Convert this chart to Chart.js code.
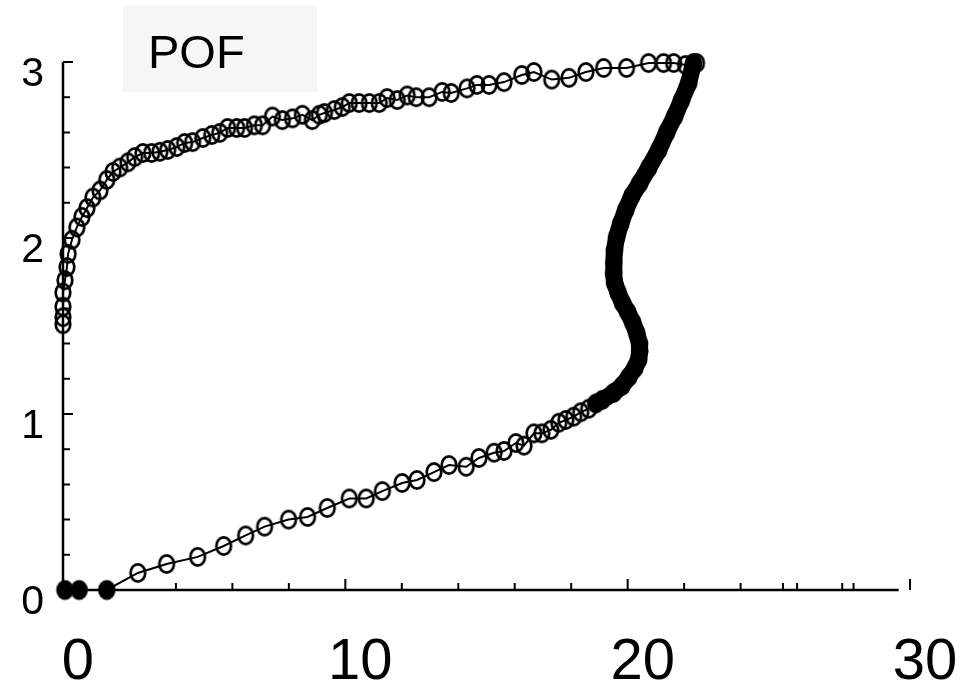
<!DOCTYPE html>
<html>
<head>
<meta charset="utf-8">
<script src="https://cdn.jsdelivr.net/npm/chart.js@4.4.1/dist/chart.umd.min.js"></script>
<style>
  html, body { margin: 0; padding: 0; background: #fff; overflow: hidden; }
  #c { display: block; }
</style>
</head>
<body>
<canvas id="c" width="972" height="689"></canvas>
<script>
// filled points sitting on the x axis
const startX = [0.07, 0.57, 1.55];
const startY = [0, 0, 0];

// lower branch, going right
const lowerX = [2.65, 3.67, 4.77, 5.69, 6.47, 7.14, 7.99, 8.66, 9.36, 10.14, 10.74, 11.31, 12.01, 12.54,
  13.14, 13.67, 14.28, 14.73, 15.27, 15.62, 16.04, 16.33, 16.68, 16.96, 17.28, 17.56, 17.81, 18.09,
  18.34, 18.62, 18.87];
const lowerY = [0.097, 0.148, 0.188, 0.25, 0.31, 0.36, 0.40, 0.415, 0.466, 0.52, 0.52, 0.562, 0.608, 0.625,
  0.67, 0.71, 0.70, 0.75, 0.78, 0.79, 0.835, 0.82, 0.89, 0.89, 0.91, 0.95, 0.966, 0.985,
  1.01, 1.03, 1.06];

// dense S-shaped band on the right
const bandX = [19.1, 19.5, 19.8, 20.04, 20.25, 20.39, 20.43, 20.42, 20.32, 20.18, 20.0, 19.82, 19.66,
  19.54, 19.5, 19.51, 19.53, 19.61, 19.75, 19.93, 20.15, 20.42, 20.75, 21.1, 21.38, 21.66, 21.9,
  22.16, 22.33];
const bandY = [1.08, 1.12, 1.16, 1.21, 1.26, 1.31, 1.36, 1.40, 1.46, 1.52, 1.58, 1.63, 1.69,
  1.744, 1.80, 1.86, 1.93, 2.006, 2.08, 2.16, 2.24, 2.31, 2.40, 2.50, 2.60, 2.69, 2.78,
  2.88, 2.994];

// upper branch, going back left
const upperX = [22.44, 22.05, 21.63, 21.27, 20.74, 19.96, 19.15, 18.52, 17.92, 17.31, 16.68, 16.25,
  15.62, 15.09, 14.66, 14.31, 13.75, 13.43, 12.97, 12.51, 12.19, 11.84, 11.48, 11.2, 10.85, 10.49,
  10.14, 9.89, 9.61, 9.26, 9.08, 8.83, 8.48, 8.13, 7.77, 7.42, 7.07, 6.78, 6.43, 6.15, 5.83, 5.55,
  5.27, 4.95, 4.59, 4.31, 4.03, 3.71, 3.43, 3.14, 2.83, 2.54, 2.3, 2.01, 1.77, 1.55, 1.31, 1.06,
  0.85, 0.67, 0.49, 0.32, 0.18, 0.14, 0.07, 0, 0, 0, 0];
const upperY = [2.994, 2.983, 2.994, 2.994, 2.994, 2.966, 2.966, 2.943, 2.91, 2.9, 2.943, 2.926,
  2.886, 2.87, 2.87, 2.85, 2.824, 2.83, 2.8, 2.8, 2.81, 2.784, 2.795, 2.767, 2.767, 2.767,
  2.767, 2.744, 2.727, 2.71, 2.7, 2.67, 2.7, 2.68, 2.67, 2.69, 2.64, 2.64, 2.625, 2.625, 2.625, 2.597,
  2.585, 2.568, 2.545, 2.54, 2.517, 2.5, 2.49, 2.483, 2.483, 2.46, 2.43, 2.4, 2.375, 2.33, 2.27, 2.23,
  2.17, 2.12, 2.06, 1.99, 1.91, 1.835, 1.76, 1.69, 1.61, 1.55, 1.51];

const xLabels = [0, 10, 20, 30];
const xMinorTicks = [4, 6, 8, 12, 14, 16, 18, 22, 24, 25.5, 26, 27.6, 28];
const yMinorTicks = [0.2, 0.4, 0.6, 0.8, 1.2, 1.4, 1.6, 1.8, 2.2, 2.4, 2.6, 2.8];
const xAxisEnd = 29.6;

function ellipseMarker(rx, ry, filled) {
  const lw = 2.7;
  const c = document.createElement("canvas");
  c.width = Math.ceil(2 * rx + lw + 2);
  c.height = Math.ceil(2 * ry + lw + 2);
  const g = c.getContext("2d");
  g.beginPath();
  g.ellipse(c.width / 2, c.height / 2, rx, ry, 0, 0, Math.PI * 2);
  if (filled) {
    g.fillStyle = "#000";
    g.fill();
  } else {
    g.lineWidth = lw;
    g.strokeStyle = "#000";
    g.stroke();
  }
  return c;
}
const openMark = ellipseMarker(7.3, 8.6, false);
const fullMark = ellipseMarker(8.8, 10, true);

const toPoints = (xs, ys) => xs.map((x, i) => ({ x, y: ys[i] }));
const allPoints = [
  ...toPoints(startX, startY),
  ...toPoints(lowerX, lowerY),
  ...toPoints(bandX, bandY),
  ...toPoints(upperX, upperY),
];
const bandPoints = [
  { x: lowerX[lowerX.length - 1], y: lowerY[lowerY.length - 1] },
  ...toPoints(bandX, bandY),
];

const axisMarks = {
  id: "axisMarks",
  beforeDatasetsDraw(chart) {
    const { ctx } = chart;
    const x = chart.scales.x;
    const y = chart.scales.y;
    const x0 = x.getPixelForValue(0);
    const y0 = y.getPixelForValue(0);
    ctx.save();
    ctx.strokeStyle = "#000";
    ctx.lineWidth = 2.5;
    ctx.beginPath();
    ctx.moveTo(x0, y0);
    ctx.lineTo(x.getPixelForValue(xAxisEnd), y0);
    ctx.moveTo(x0, y0);
    ctx.lineTo(x0, y.getPixelForValue(3));
    ctx.stroke();

    ctx.lineWidth = 2;
    ctx.beginPath();
    [1, 2, 3].forEach((v) => {
      const p = y.getPixelForValue(v);
      ctx.moveTo(x0, p);
      ctx.lineTo(x0 + 10, p);
    });
    yMinorTicks.forEach((v) => {
      const p = y.getPixelForValue(v);
      ctx.moveTo(x0, p);
      ctx.lineTo(x0 + 7, p);
    });
    [10, 20, 30].forEach((v) => {
      const p = x.getPixelForValue(v);
      ctx.moveTo(p, y0);
      ctx.lineTo(p, y0 - 11);
    });
    xMinorTicks.forEach((v) => {
      const p = x.getPixelForValue(v);
      ctx.moveTo(p, y0);
      ctx.lineTo(p, y0 - 7);
    });
    ctx.stroke();
    ctx.restore();
  },
  afterDraw(chart) {
    const { ctx } = chart;
    ctx.save();
    ctx.fillStyle = "#f6f6f6";
    ctx.fillRect(123, 5, 194, 87);
    ctx.fillStyle = "#000";
    ctx.font = "47px 'Liberation Sans', Arial, sans-serif";
    ctx.textBaseline = "alphabetic";
    ctx.fillText("POF", 148, 68);
    ctx.restore();
  },
};

new Chart(document.getElementById("c"), {
  type: "scatter",
  data: {
    datasets: [
      {
        data: allPoints,
        showLine: true,
        borderColor: "#000",
        borderWidth: 2,
        tension: 0,
        pointStyle: (ctx) => (ctx.dataIndex < startX.length ? fullMark : openMark),
        pointRadius: 8,
        clip: false,
      },
      {
        data: bandPoints,
        showLine: true,
        borderColor: "#000",
        borderWidth: 17,
        borderCapStyle: "round",
        borderJoinStyle: "round",
        pointRadius: 0,
        tension: 0,
        clip: false,
      },
    ],
  },
  options: {
    responsive: false,
    animation: false,
    layout: { padding: { top: 62, right: 62, left: 0, bottom: 0 } },
    plugins: { legend: { display: false }, tooltip: { enabled: false } },
    scales: {
      x: {
        type: "linear",
        min: 0,
        max: 30,
        afterBuildTicks: (s) => { s.ticks = xLabels.map((v) => ({ value: v })); },
        afterFit: (s) => {
          s.height = 99;
          s.paddingLeft = 0;
          s.paddingRight = 0;
        },
        grid: { display: false, drawTicks: false },
        border: { display: false },
        ticks: {
          color: "#000",
          padding: 38,
          labelOffset: 15,
          maxRotation: 0,
          font: { family: "'Liberation Sans', Arial, sans-serif", size: 58 },
        },
      },
      y: {
        type: "linear",
        min: 0,
        max: 3,
        afterFit: (s) => {
          s.width = 63;
          s.paddingTop = 0;
          s.paddingBottom = 0;
        },
        grid: { display: false, drawTicks: false },
        border: { display: false },
        ticks: {
          stepSize: 1,
          color: "#000",
          padding: 19,
          labelOffset: 13,
          font: { family: "'Liberation Sans', Arial, sans-serif", size: 41 },
        },
      },
    },
  },
  plugins: [axisMarks],
});
</script>
</body>
</html>
